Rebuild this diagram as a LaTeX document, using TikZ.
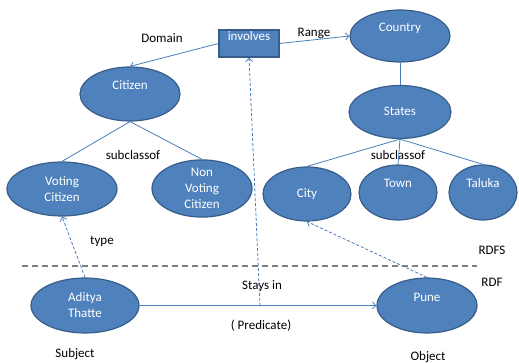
\documentclass[tikz,border=0pt]{standalone}
\usepackage{fontspec}
\setmainfont{Carlito}
\usetikzlibrary{shapes.geometric,arrows.meta}
\definecolor{ofill}{HTML}{4F81BD}
\definecolor{oedge}{HTML}{385D8A}
\definecolor{oline}{HTML}{4A7EBB}
\definecolor{sepgray}{HTML}{7F7F7F}
\begin{document}
\begin{tikzpicture}[x=1pt,y=-1pt,
  every node/.style={font=\fontsize{13}{16}\selectfont},
  concept/.style={ellipse,fill=ofill,draw=oedge,line width=1.2pt,text=white,
    align=center,inner sep=0pt,text height=10pt,text depth=3pt},
  raised/.style={text depth=19pt},
  multi/.style={text height=,text depth=},
  relbox/.style={rectangle,fill=ofill,draw=oedge,line width=1.2pt,text=white,
    inner sep=0pt,minimum width=60pt,minimum height=27pt,text height=10pt,text depth=15pt},
  tag/.style={text=black,inner sep=1pt},
  link/.style={draw=oline,line width=0.8pt},
  arr/.style={link,-{Straight Barb[length=3.5pt,width=7pt]}},
  dotarr/.style={arr,dash pattern=on 3pt off 2pt},
  separator/.style={draw=sepgray,line width=1.2pt,dash pattern=on 6pt off 4pt}]
\useasboundingbox (0,0) rectangle (519,363);

% schema (RDFS) level
\node[relbox] (inv) at (249,43.5) {involves};
\node[concept,raised,minimum width=100pt,minimum height=52pt] (country) at (400,36) {Country};
\node[concept,minimum width=102pt,minimum height=53pt] (states) at (400,112) {States};
\node[concept,raised,minimum width=100pt,minimum height=54pt] (cit) at (130,94) {Citizen};
\node[concept,multi,minimum width=110pt,minimum height=54pt] (vot) at (62,189) {Voting\\Citizen};
\node[concept,multi,minimum width=100pt,minimum height=55pt] (nonvot) at (202,188.5) {Non\\Voting\\Citizen};
\node[concept,minimum width=88pt,minimum height=54pt] (city) at (307,194) {City};
\node[concept,raised,minimum width=78pt,minimum height=55pt] (town) at (398,192.5) {Town};
\node[concept,raised,minimum width=68pt,minimum height=55pt] (taluka) at (483,192.5) {Taluka};

% instance (RDF) level
\node[concept,multi,minimum width=108pt,minimum height=55pt] (adi) at (85,305.5) {Aditya\\Thatte};
\node[concept,raised,minimum width=100pt,minimum height=55pt] (pune) at (427,305.5) {Pune};

% labels
\node[tag] (ldomain) at (162,38) {Domain};
\node[tag] (lrange) at (314,33) {Range};
\node[tag] (lsub1) at (133,155) {subclassof};
\node[tag] (lsub2) at (398,155) {subclassof};
\node[tag] (ltype) at (102,241) {type};
\node[tag] (lrdfs) at (492,250) {RDFS};
\node[tag] (lrdf) at (492,282) {RDF};
\node[tag] (lstays) at (262,286) {Stays in};
\node[tag] (lpred) at (261,326) {( Predicate)};
\node[tag] (lsubj) at (75,354) {Subject};
\node[tag] (lobj) at (428,357) {Object};

% schema links
\draw[arr] (inv.west) -- (cit.north);
\draw[arr] (inv.east) -- (country.west);
\draw[link] (country.south) -- (states.north);
\draw[link] (cit.south) -- (vot.north);
\draw[link] (cit.south) -- (nonvot.north);
\draw[link] (states.south) -- (city.north);
\draw[link] (states.south) -- (town.north);
\draw[link] (states.south) -- (taluka.north);

% level separator
\coordinate (sepL) at (22,266);
\coordinate (sepR) at (477,266);
\draw[separator] (sepL) -- (sepR);

% instance links
\draw[arr] (adi.east) -- (pune.west);
\coordinate (pred) at (260,306);
\draw[dotarr] (pred) -- (inv.south);
\draw[dotarr] (adi.north) -- (vot.south);
\draw[dotarr] (pune.north) -- (city.south);
\end{tikzpicture}
\end{document}
